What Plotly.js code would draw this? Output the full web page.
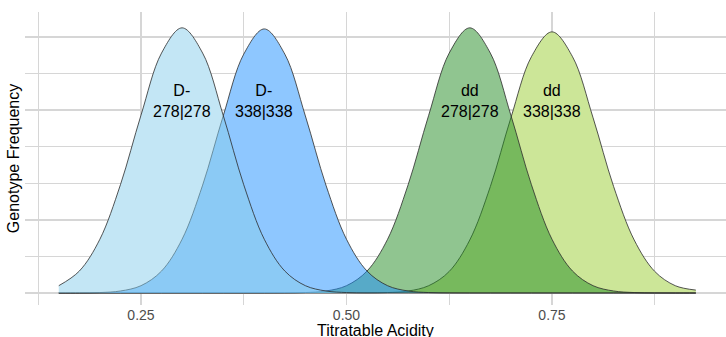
<!DOCTYPE html>
<html>
<head>
<meta charset="utf-8">
<script src="https://cdn.plot.ly/plotly-3.0.1.min.js"></script>
<style>html,body{margin:0;padding:0;background:#fff;}#chart{width:726px;height:337px;}</style>
</head>
<body>
<div id="chart"></div>
<script>
// Titratable acidity grid (x) and density values
var acidity = [0.150,0.175,0.200,0.225,0.250,0.275,0.300,0.325,0.350,0.375,0.400,0.425,0.450,0.475,0.500,0.525,
               0.550,0.575,0.600,0.625,0.650,0.675,0.700,0.725,0.750,0.775,0.800,0.825,0.850,0.875,0.900,0.925];

var densD278  = [0.20,0.60,1.47,2.96,4.86,6.56,7.25,6.56,4.86,2.96,1.47,0.60,0.20,0.055,0.012,0.002,
                 0,0,0,0,0,0,0,0,0,0,0,0,0,0,0,0];
var densD338  = [0,0.002,0.012,0.055,0.20,0.60,1.47,2.95,4.84,6.53,7.22,6.53,4.84,2.95,1.47,0.60,
                 0.20,0.055,0.012,0.002,0,0,0,0,0,0,0,0,0,0,0,0];
var densdd278 = [0,0,0,0,0,0,0,0,0,0,0,0.002,0.012,0.055,0.20,0.60,
                 1.47,2.96,4.86,6.56,7.25,6.56,4.86,2.96,1.47,0.60,0.20,0.055,0.012,0.002,0,0];
var densdd338 = [0,0,0,0,0,0,0,0,0,0,0,0,0,0,0,0.002,
                 0.012,0.054,0.20,0.59,1.45,2.91,4.79,6.46,7.14,6.46,4.79,2.91,1.45,0.59,0.20,0.08];

var groupNames  = ["dd 338|338", "dd 278|278", "D- 338|338", "D- 278|278"];
var groupLabels = ["dd<br>338|338", "dd<br>278|278", "D-<br>338|338", "D-<br>278|278"];
var groupMeans  = [0.75, 0.65, 0.40, 0.30];
var groupDens   = [densdd338, densdd278, densD338, densD278];
var groupColors = ["rgba(154,205,50,0.5)", "rgba(34,139,34,0.5)", "rgba(30,144,255,0.5)", "rgba(135,206,235,0.5)"];

var tickVals = [0.125,0.25,0.375,0.5,0.625,0.75,0.875];
var tickText = ["","0.25","","0.50","","0.75",""];
var xTitle = "Titratable Acidity";
var yTitle = "Genotype Frequency";

var FONT = "Liberation Sans, Arial, sans-serif";

// opaque white underlay so gridlines do not show through the areas
var underlay = groupDens.map(function(d, i){
  return {
    x: acidity, y: d, type: "scatter", mode: "lines",
    name: groupNames[i] + " base",
    line: {color: "rgba(0,0,0,0)", width: 0, shape: "spline", smoothing: 1},
    fill: "tozeroy", fillcolor: "#ffffff",
    hoverinfo: "skip"
  };
});

var traces = groupDens.map(function(d, i){
  return {
    x: acidity, y: d, type: "scatter", mode: "lines",
    name: groupNames[i],
    line: {color: "#2b2b2b", width: 0.8, shape: "spline", smoothing: 1},
    fill: "tozeroy", fillcolor: groupColors[i],
    hoverinfo: "skip"
  };
});

var annotations = groupLabels.map(function(t, i){
  return {
    x: groupMeans[i], y: 5.25, xref: "x", yref: "y",
    text: t, showarrow: false,
    font: {family: FONT, size: 16, color: "#000000"},
    align: "center"
  };
});
// x-axis title placed just below the tick labels, as in the reference
annotations.push({
  x: 0.5, y: -0.052, xref: "paper", yref: "paper",
  xanchor: "center", yanchor: "top",
  text: xTitle, showarrow: false,
  font: {family: FONT, size: 16, color: "#000000"}
});

var layout = {
  width: 726, height: 337,
  margin: {l: 25, r: 0, t: 12, b: 32, pad: 0},
  paper_bgcolor: "#ffffff", plot_bgcolor: "#ffffff",
  showlegend: false,
  hovermode: false,
  xaxis: {
    range: [0.1089, 0.9617],
    tickmode: "array", tickvals: tickVals, ticktext: tickText,
    showgrid: true, gridcolor: "#d6d6d6", gridwidth: 1.3,
    zeroline: false, showline: false, ticks: "",
    ticklabelstandoff: 0,
    tickfont: {family: FONT, size: 14, color: "#4d4d4d"},
    automargin: false
  },
  yaxis: {
    range: [-0.328, 7.683],
    tickmode: "linear", tick0: 0, dtick: 1,
    showticklabels: false,
    showgrid: true, gridcolor: "#d6d6d6", gridwidth: 1.3,
    zeroline: false, showline: false, ticks: "",
    title: {text: yTitle, font: {family: FONT, size: 16, color: "#000000"}, standoff: 0},
    automargin: false
  },
  annotations: annotations
};

Plotly.newPlot("chart", underlay.concat(traces), layout, {displayModeBar: false, staticPlot: true});
</script>
</body>
</html>
